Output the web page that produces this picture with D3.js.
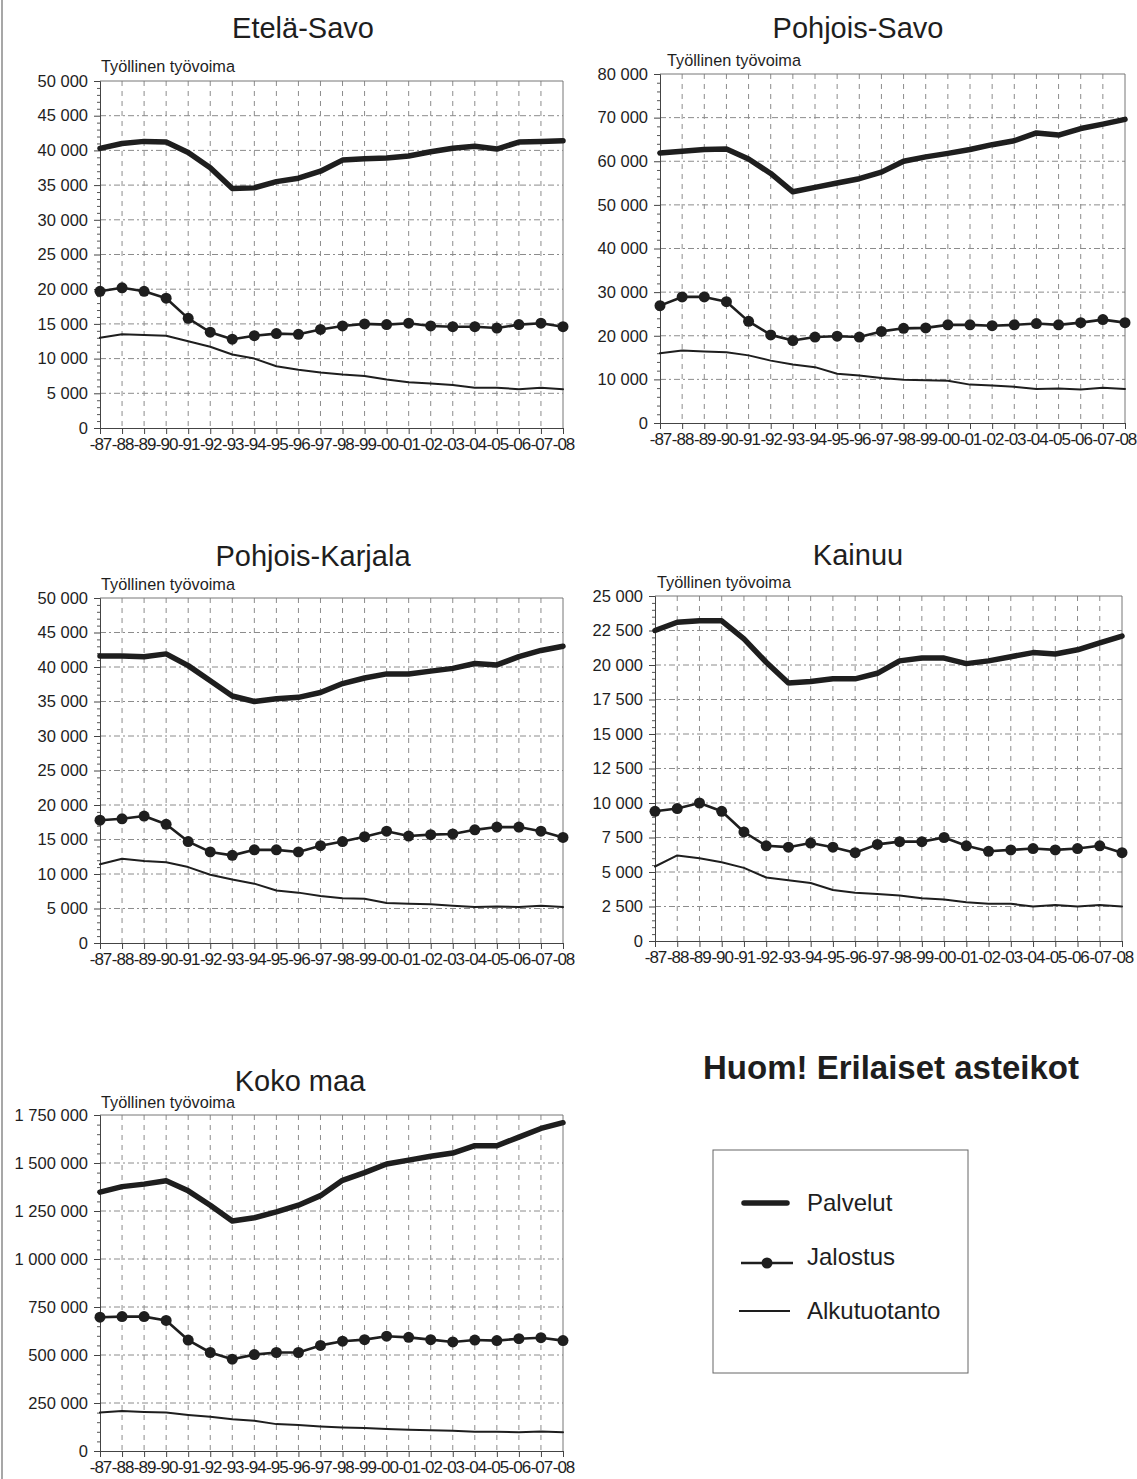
<!DOCTYPE html>
<html><head><meta charset="utf-8">
<script src="https://cdn.jsdelivr.net/npm/d3@7"></script>
<style>
body{margin:0;background:#fff}
text{font-family:"Liberation Sans",Arial,sans-serif;fill:#1e1e1e}
</style>
</head><body>
<svg id="c" width="1137" height="1479"></svg>
<script>
// ---------- DATA ----------
const years = ["-87","-88","-89","-90","-91","-92","-93","-94","-95","-96","-97","-98","-99","-00","-01","-02","-03","-04","-05","-06","-07","-08"];
const seriesNames = ["Palvelut","Jalostus","Alkutuotanto"];
const regions = ["Etelä-Savo","Pohjois-Savo","Pohjois-Karjala","Kainuu","Koko maa"];
const yAxisLabel = "Työllinen työvoima";
const noteText = "Huom! Erilaiset asteikot";

const etelaSavoPalvelut     = [40300,41000,41300,41200,39700,37500,34500,34600,35500,36000,37000,38600,38800,38900,39200,39800,40300,40600,40200,41200,41300,41400];
const etelaSavoJalostus     = [19700,20200,19700,18700,15800,13800,12800,13300,13600,13500,14200,14700,15000,14900,15100,14700,14600,14600,14400,14900,15100,14600];
const etelaSavoAlkutuotanto = [13000,13500,13400,13300,12500,11700,10600,10000,8900,8400,8000,7700,7500,7000,6600,6400,6200,5800,5800,5600,5800,5600];

const pohjoisSavoPalvelut     = [61900,62300,62700,62800,60500,57200,53000,54000,55000,56000,57500,60000,61000,61800,62700,63800,64700,66500,66000,67500,68500,69600];
const pohjoisSavoJalostus     = [26900,28900,28900,27800,23300,20200,18900,19700,19900,19700,21000,21700,21800,22500,22500,22300,22500,22800,22500,23000,23700,23000];
const pohjoisSavoAlkutuotanto = [16000,16600,16400,16200,15500,14300,13400,12800,11300,10900,10300,9900,9800,9700,8800,8600,8300,7800,7900,7700,8100,7800];

const pohjoisKarjalaPalvelut     = [41600,41600,41500,41900,40200,38000,35800,35000,35400,35600,36300,37600,38400,39000,39000,39400,39800,40500,40300,41500,42400,43000];
const pohjoisKarjalaJalostus     = [17800,18000,18400,17200,14700,13200,12700,13500,13500,13200,14100,14700,15400,16200,15500,15700,15800,16400,16800,16800,16200,15300];
const pohjoisKarjalaAlkutuotanto = [11400,12200,11900,11700,11000,9900,9200,8600,7600,7300,6800,6500,6400,5800,5700,5600,5400,5200,5300,5200,5400,5200];

const kainuuPalvelut     = [22500,23100,23200,23200,21900,20200,18700,18800,19000,19000,19400,20300,20500,20500,20100,20300,20600,20900,20800,21100,21600,22100];
const kainuuJalostus     = [9400,9600,10000,9400,7900,6900,6800,7100,6800,6400,7000,7200,7200,7500,6900,6500,6600,6700,6600,6700,6900,6400];
const kainuuAlkutuotanto = [5400,6200,6000,5700,5300,4600,4400,4200,3700,3500,3400,3300,3100,3000,2800,2700,2700,2500,2600,2500,2600,2500];

const kokoMaaPalvelut     = [1348000,1377000,1390000,1408000,1355000,1280000,1198000,1215000,1245000,1280000,1330000,1410000,1450000,1495000,1515000,1535000,1552000,1590000,1590000,1635000,1680000,1710000];
const kokoMaaJalostus     = [697000,700000,700000,680000,578000,513000,478000,502000,513000,513000,550000,572000,580000,598000,592000,580000,568000,578000,575000,585000,590000,575000];
const kokoMaaAlkutuotanto = [200000,208000,203000,200000,188000,178000,165000,157000,140000,135000,128000,123000,120000,115000,111000,108000,105000,100000,100000,98000,102000,98000];

const yMaxes = [50000,80000,50000,25000,1750000];
const ySteps = [5000,10000,5000,2500,250000];

const regionSeries = [
  [etelaSavoPalvelut, etelaSavoJalostus, etelaSavoAlkutuotanto],
  [pohjoisSavoPalvelut, pohjoisSavoJalostus, pohjoisSavoAlkutuotanto],
  [pohjoisKarjalaPalvelut, pohjoisKarjalaJalostus, pohjoisKarjalaAlkutuotanto],
  [kainuuPalvelut, kainuuJalostus, kainuuAlkutuotanto],
  [kokoMaaPalvelut, kokoMaaJalostus, kokoMaaAlkutuotanto]
];

// ---------- LAYOUT / STYLE ----------
const layout = [
  {l:100,r:563,t:81,b:428, tx:303, ty:38, sx:101, sy:72},
  {l:660,r:1125,t:74,b:423, tx:858, ty:38, sx:667, sy:66},
  {l:100,r:563,t:598,b:943, tx:313, ty:566, sx:101, sy:590},
  {l:655,r:1122,t:596,b:941, tx:858, ty:565, sx:657, sy:588},
  {l:100,r:563,t:1115,b:1451, tx:300, ty:1091, sx:101, sy:1108}
];
const lineStyles = [
  {w:5.5, marker:false},
  {w:2.6, marker:true},
  {w:2.0, marker:false}
];
const ink = "#1e1e1e";

const fmt = d3.formatLocale({decimal:",", thousands:"\u00a0", grouping:[3], currency:["","€"]}).format(",d");

const svg = d3.select("#c");

// left scan edge line
svg.append("line").attr("x1",2).attr("x2",2).attr("y1",0).attr("y2",1479)
  .attr("stroke","#8a8a8a").attr("stroke-width",1.5);

regions.forEach((name,i)=>{
  const L = layout[i];
  const x = d3.scalePoint().domain(years).range([L.l, L.r]);
  const y = d3.scaleLinear().domain([0, yMaxes[i]]).range([L.b, L.t]);
  const g = svg.append("g");
  const majors = d3.range(0, yMaxes[i] + ySteps[i]/2, ySteps[i]);
  const minors = d3.range(0, yMaxes[i] + 1, ySteps[i]/5);

  // horizontal grid
  g.selectAll(".hg").data(majors.filter(v=>v>0 && v<yMaxes[i])).join("line")
    .attr("x1",L.l).attr("x2",L.r).attr("y1",d=>y(d)).attr("y2",d=>y(d))
    .attr("stroke","#8c8c8c").attr("stroke-width",1).attr("stroke-dasharray","6,3,2,3");
  // vertical grid
  g.selectAll(".vg").data(years.slice(1,-1)).join("line")
    .attr("x1",d=>x(d)).attr("x2",d=>x(d)).attr("y1",L.t).attr("y2",L.b)
    .attr("stroke","#8c8c8c").attr("stroke-width",1).attr("stroke-dasharray","5,5");
  // frame top & right
  g.append("path").attr("d",`M${L.l},${L.t}H${L.r}V${L.b}`)
    .attr("fill","none").attr("stroke","#777").attr("stroke-width",1);

  // y axis
  const ya = d3.axisLeft(y).tickValues(majors).tickFormat(fmt).tickSize(6).tickPadding(6);
  const yg = g.append("g").attr("transform",`translate(${L.l},0)`).call(ya);
  yg.selectAll("text").attr("font-size",16.5).style("fill",ink);
  yg.select(".domain").attr("stroke","#444");
  yg.selectAll(".tick line").attr("stroke","#444");
  g.append("g").attr("transform",`translate(${L.l},0)`)
    .call(d3.axisLeft(y).tickValues(minors.filter(v=>!majors.includes(v))).tickSize(3).tickFormat(""))
    .call(s=>{s.select(".domain").remove(); s.selectAll("line").attr("stroke","#555");});

  // x axis
  const xa = d3.axisBottom(x).tickSize(6).tickPadding(4);
  const xg = g.append("g").attr("transform",`translate(0,${L.b})`).call(xa);
  xg.selectAll("text").attr("font-size",17).style("fill",ink).attr("letter-spacing","-1");
  xg.select(".domain").attr("stroke","#444");
  xg.selectAll(".tick line").attr("stroke","#444");

  // titles
  svg.append("text").attr("x",L.tx).attr("y",L.ty).attr("text-anchor","middle")
    .attr("font-size",29).text(name);
  svg.append("text").attr("x",L.sx).attr("y",L.sy).attr("font-size",16.3).text(yAxisLabel);

  // series
  regionSeries[i].forEach((vals,k)=>{
    const st = lineStyles[k];
    const line = d3.line().x((d,j)=>x(years[j])).y(d=>y(d));
    g.append("path").datum(vals).attr("d",line).attr("fill","none")
      .attr("stroke",ink).attr("stroke-width",st.w).attr("stroke-linejoin","round").attr("stroke-linecap","round");
    if(st.marker){
      g.selectAll(".m"+k).data(vals).join("circle")
        .attr("cx",(d,j)=>x(years[j])).attr("cy",d=>y(d)).attr("r",5.5).attr("fill",ink);
    }
  });
});

// note
svg.append("text").attr("x",891).attr("y",1079).attr("text-anchor","middle")
  .attr("font-size",33).attr("font-weight","bold").text(noteText);

// legend
const lg = svg.append("g");
lg.append("rect").attr("x",713).attr("y",1150).attr("width",255).attr("height",223)
  .attr("fill","none").attr("stroke","#666").attr("stroke-width",1);
const legY = [1203,1263,1311];
const legX = [[744,787],[741,793],[739,790]];
seriesNames.forEach((n,k)=>{
  const st = lineStyles[k];
  lg.append("line").attr("x1",legX[k][0]).attr("x2",legX[k][1]).attr("y1",legY[k]).attr("y2",legY[k])
    .attr("stroke",ink).attr("stroke-width",st.w).attr("stroke-linecap", k===0?"round":"butt");
  if(st.marker) lg.append("circle").attr("cx",(legX[k][0]+legX[k][1])/2).attr("cy",legY[k]).attr("r",5.5).attr("fill",ink);
  lg.append("text").attr("x",807).attr("y",legY[k] + (k===1?-6:0)).attr("dy","0.35em").attr("font-size",24).text(n);
});
</script>
</body></html>
